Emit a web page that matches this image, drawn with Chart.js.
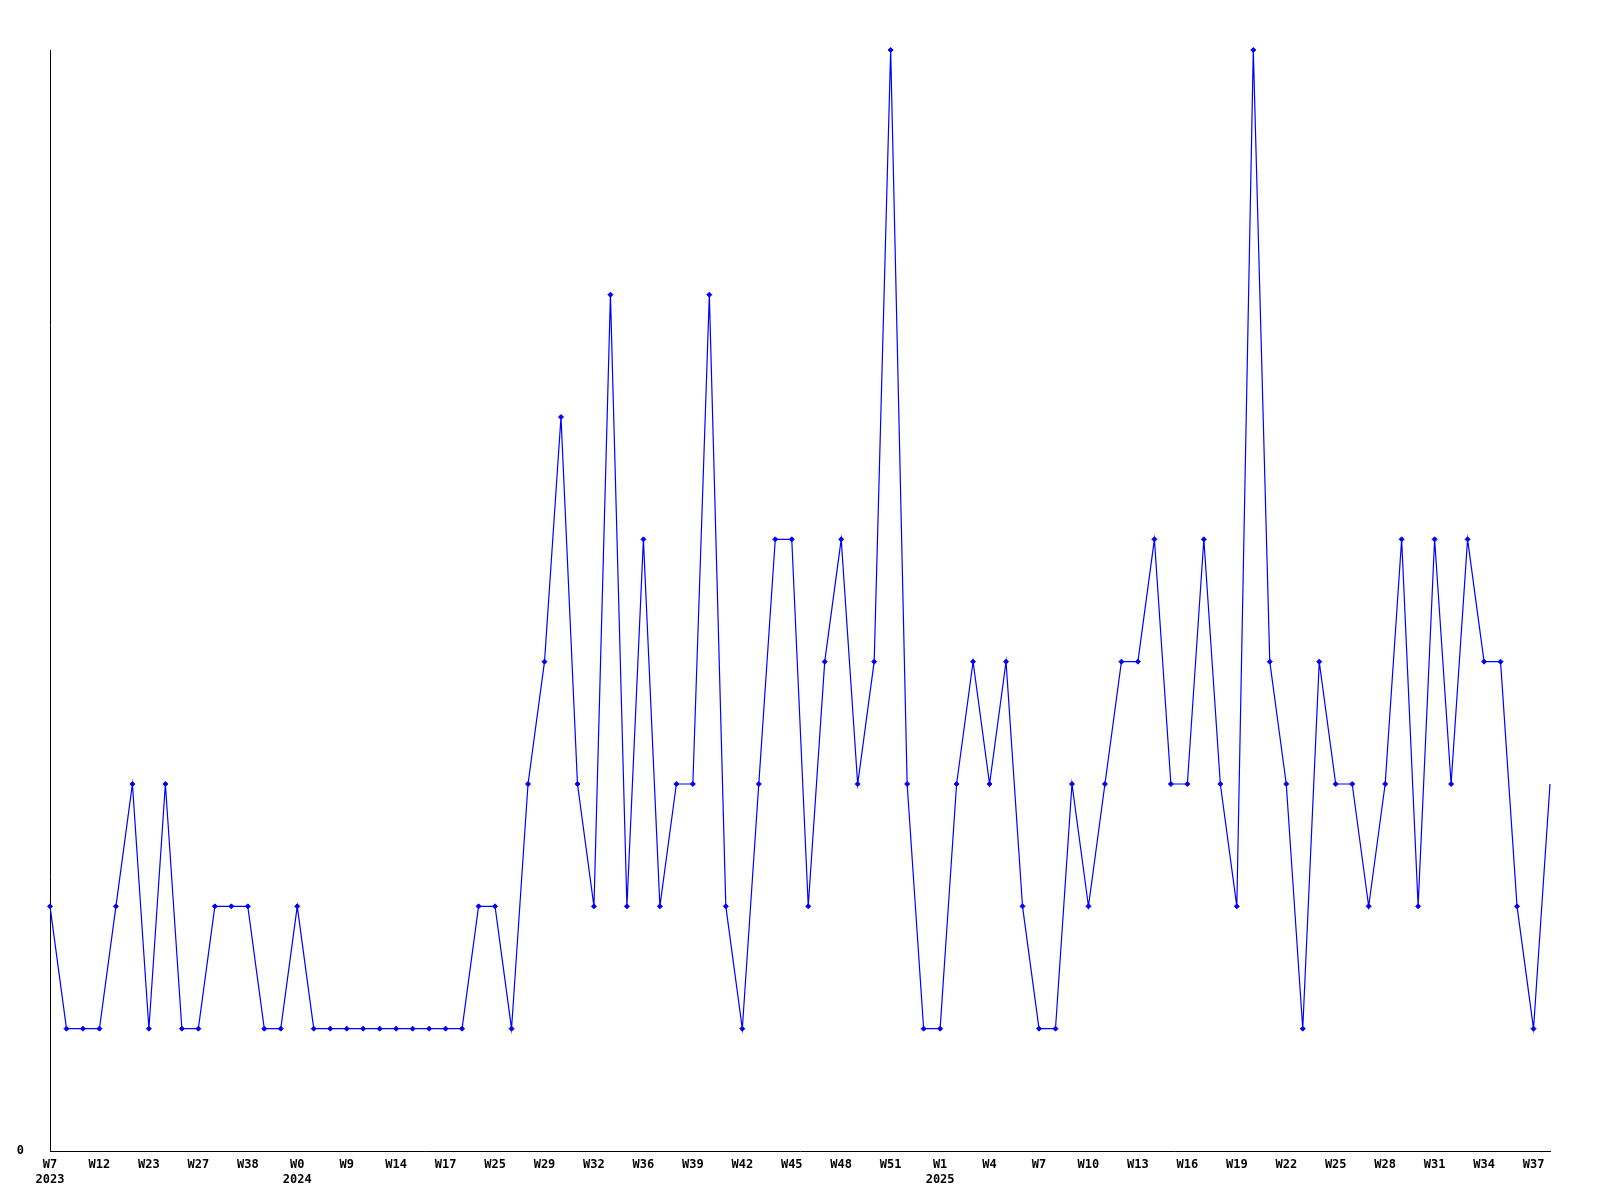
<!DOCTYPE html>
<html>
<head>
<meta charset="utf-8">
<title>Weekly count</title>
<script src="https://cdn.jsdelivr.net/npm/chart.js@4.4.1/dist/chart.umd.min.js"></script>
<style>
    html, body { margin: 0; padding: 0; background: #ffffff; }
    #weekChart { display: block; }
</style>
</head>
<body>
<canvas id="weekChart" width="1600" height="1200"></canvas>
<script>
// week labels, one per point (only every 3rd one is shown on the axis)
const weeks = [
    'W7', 'W8', 'W10', 'W12', 'W15', 'W19', 'W23', 'W24', 'W26', 'W27', 'W30', 'W33', 'W38', 'W44', 'W49',
    'W0', 'W3', 'W6', 'W9', 'W11', 'W12', 'W14', 'W15', 'W16', 'W17', 'W20', 'W23', 'W25', 'W27', 'W28',
    'W29', 'W30', 'W31', 'W32', 'W33', 'W35', 'W36', 'W37', 'W38', 'W39', 'W40', 'W41', 'W42', 'W43', 'W44',
    'W45', 'W46', 'W47', 'W48', 'W49', 'W50', 'W51', 'W52', 'W0',
    'W1', 'W2', 'W3', 'W4', 'W5', 'W6', 'W7', 'W8', 'W9', 'W10', 'W11', 'W12', 'W13', 'W14', 'W15', 'W16',
    'W17', 'W18', 'W19', 'W20', 'W21', 'W22', 'W23', 'W24', 'W25', 'W26', 'W27', 'W28', 'W29', 'W30', 'W31',
    'W32', 'W33', 'W34', 'W35', 'W36', 'W37', 'W38'
];

const years = [
    2023, 2023, 2023, 2023, 2023, 2023, 2023, 2023, 2023, 2023, 2023, 2023, 2023, 2023, 2023,
    2024, 2024, 2024, 2024, 2024, 2024, 2024, 2024, 2024, 2024, 2024, 2024, 2024, 2024, 2024,
    2024, 2024, 2024, 2024, 2024, 2024, 2024, 2024, 2024, 2024, 2024, 2024, 2024, 2024, 2024,
    2024, 2024, 2024, 2024, 2024, 2024, 2024, 2024, 2025,
    2025, 2025, 2025, 2025, 2025, 2025, 2025, 2025, 2025, 2025, 2025, 2025, 2025, 2025, 2025, 2025,
    2025, 2025, 2025, 2025, 2025, 2025, 2025, 2025, 2025, 2025, 2025, 2025, 2025, 2025, 2025,
    2025, 2025, 2025, 2025, 2025, 2025, 2025
];

const counts = [
    2, 1, 1, 1, 2, 3, 1, 3, 1, 1, 2, 2, 2, 1, 1,
    2, 1, 1, 1, 1, 1, 1, 1, 1, 1, 1, 2, 2, 1, 3,
    4, 6, 3, 2, 7, 2, 5, 2, 3, 3, 7, 2, 1, 3, 5,
    5, 2, 4, 5, 3, 4, 9, 3, 1,
    1, 3, 4, 3, 4, 2, 1, 1, 3, 2, 3, 4, 4, 5, 3, 3,
    5, 3, 2, 9, 4, 3, 1, 4, 3, 3, 2, 3, 5, 2, 5,
    3, 5, 4, 4, 2, 1, 3
];

const yMax = 9;
const labelEvery = 3;

const tickFont = {
    family: '"DejaVu Sans Mono", "Liberation Mono", monospace',
    size: 12,
    weight: 'bold',
    lineHeight: 1.25
};

const ctx = document.getElementById('weekChart');

new Chart(ctx, {
    type: 'line',
    data: {
        labels: weeks,
        datasets: [{
            data: counts,
            borderColor: '#0000ff',
            backgroundColor: '#0000ff',
            borderWidth: 1.2,
            tension: 0,
            fill: false,
            clip: false,
            pointStyle: 'rectRot',
            // last point sits on the right edge, the original shows no marker there
            pointRadius: c => c.dataIndex === counts.length - 1 ? 0 : 2.5,
            pointBorderWidth: 1,
            pointBorderColor: '#0000ff',
            pointBackgroundColor: '#0000ff'
        }]
    },
    options: {
        responsive: false,
        animation: false,
        devicePixelRatio: 1,
        layout: {
            padding: { top: 50, right: 50, bottom: 0, left: 0 }
        },
        plugins: {
            legend: { display: false },
            tooltip: { enabled: false }
        },
        scales: {
            x: {
                type: 'category',
                offset: false,
                grid: { display: false, drawTicks: false },
                border: { display: true, color: '#000000', width: 1 },
                ticks: {
                    color: '#000000',
                    font: tickFont,
                    padding: 6,
                    autoSkip: false,
                    maxRotation: 0,
                    minRotation: 0,
                    callback: function(value, index) {
                        if (index % labelEvery !== 0) return '';
                        const wk = weeks[index];
                        const prev = index - labelEvery;
                        if (index === 0 || years[prev] !== years[index]) {
                            return [wk, String(years[index])];
                        }
                        return wk;
                    }
                },
                afterFit: function(scale) {
                    scale.height = 49;
                }
            },
            y: {
                min: 0,
                max: yMax,
                grid: { display: false, drawTicks: false },
                border: { display: true, color: '#000000', width: 1 },
                ticks: {
                    stepSize: 1,
                    color: '#000000',
                    font: tickFont,
                    padding: 26,
                    callback: function(value) {
                        return value === 0 ? '0' : '';
                    }
                },
                afterFit: function(scale) {
                    scale.width = 50;
                }
            }
        }
    }
});
</script>
</body>
</html>
